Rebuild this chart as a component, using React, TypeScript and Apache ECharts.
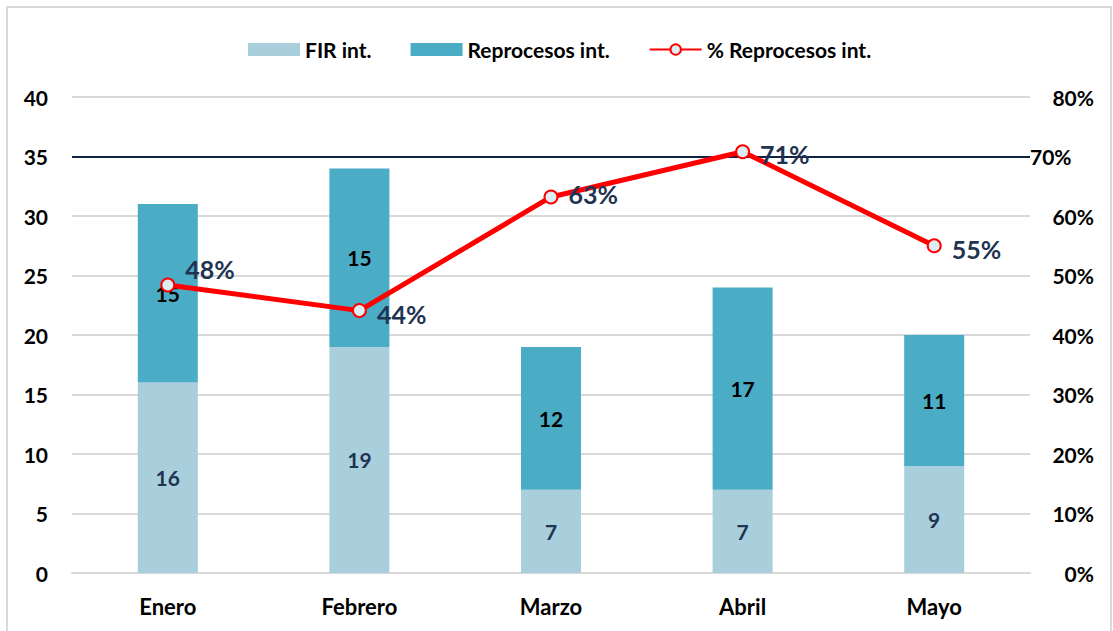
import React, { useEffect, useRef } from "react";
import * as echarts from "echarts";

const months = ["Enero", "Febrero", "Marzo", "Abril", "Mayo"];
const firInt = [16, 19, 7, 7, 9];
const reprocesosInt = [15, 15, 12, 17, 11];
const pctReprocesos = [48.4, 44.1, 63.2, 70.8, 55.0];
const leftTicks = { min: 0, max: 40, interval: 5 };
const rightTicks = { min: 0, max: 80, interval: 10 };
const targetLine = 35;
const targetLabel = "70%";

const FONT = "Lato, 'Open Sans', sans-serif";

export default function App() {
  const ref = useRef<HTMLDivElement>(null);
  useEffect(() => {
    if (!ref.current) return;
    const chart = echarts.init(ref.current, null, { renderer: "svg" });
    const pctLabelOffsets = [
      [0, -16],
      [0, 3],
      [0, -3],
      [0, 2],
      [0, 3],
    ];
    chart.setOption({
      animation: false,
      textStyle: { fontFamily: FONT },
      legend: {
        top: 34,
        left: 243,
        itemGap: 39,
        itemWidth: 52,
        itemHeight: 13,
        textStyle: { fontFamily: FONT, fontWeight: "bold", fontSize: 21, color: "#000" },
        data: [
          { name: "FIR int.", icon: "rect" },
          { name: "Reprocesos int.", icon: "rect" },
          { name: "% Reprocesos int." },
        ],
      },
      grid: { left: 72, right: 83, top: 97, bottom: 58 },
      xAxis: {
        type: "category",
        data: months,
        axisLine: { lineStyle: { color: "#d9d9d9", width: 2 } },
        axisTick: { show: false },
        axisLabel: { margin: 22, fontFamily: FONT, fontWeight: "bold", fontSize: 22, color: "#000" },
      },
      yAxis: [
        {
          type: "value",
          min: leftTicks.min,
          max: leftTicks.max,
          interval: leftTicks.interval,
          axisLine: { show: false },
          axisTick: { show: false },
          splitLine: { lineStyle: { color: "#d9d9d9", width: 2 } },
          axisLabel: { margin: 24, fontFamily: FONT, fontWeight: "bold", fontSize: 21, color: "#000" },
        },
        {
          type: "value",
          min: rightTicks.min,
          max: rightTicks.max,
          interval: rightTicks.interval,
          axisLine: { show: false },
          axisTick: { show: false },
          splitLine: { show: false },
          axisLabel: {
            margin: 64,
            align: "right",
            fontFamily: FONT,
            fontWeight: "bold",
            fontSize: 21,
            color: "#000",
            formatter: (v: number) => (v === 70 ? "" : v + "%"),
          },
        },
      ],
      series: [
        {
          name: "FIR int.",
          type: "bar",
          stack: "total",
          barWidth: 60,
          data: firInt,
          itemStyle: { color: "#a9cfdd" },
          label: {
            show: true,
            position: "inside",
            fontFamily: FONT,
            fontWeight: "bold",
            fontSize: 21,
            color: "#1f3352",
          },
          markLine: {
            symbol: "none",
            silent: true,
            lineStyle: { color: "#0f2340", width: 2, type: "solid" },
            label: {
              show: true,
              position: "end",
              distance: 0,
              formatter: targetLabel,
              fontFamily: FONT,
              fontWeight: "bold",
              fontSize: 21,
              color: "#000",
            },
            data: [{ yAxis: targetLine }],
          },
        },
        {
          name: "Reprocesos int.",
          type: "bar",
          stack: "total",
          barWidth: 60,
          data: reprocesosInt,
          itemStyle: { color: "#4bacc6" },
          label: {
            show: true,
            position: "inside",
            fontFamily: FONT,
            fontWeight: "bold",
            fontSize: 21,
            color: "#000",
          },
        },
        {
          name: "% Reprocesos int.",
          type: "line",
          yAxisIndex: 1,
          z: 5,
          symbol: "circle",
          symbolSize: 13,
          itemStyle: { color: "#dbeef4", borderColor: "#ff0000", borderWidth: 2 },
          lineStyle: { color: "#ff0000", width: 5 },
          data: pctReprocesos.map((v, i) => ({
            value: v,
            label: { offset: pctLabelOffsets[i] },
          })),
          label: {
            show: true,
            position: "right",
            distance: 10,
            fontFamily: FONT,
            fontWeight: "bold",
            fontSize: 25,
            color: "#1f3352",
            formatter: (p: any) => Math.round(p.value) + "%",
          },
        },
      ],
    });
    return () => chart.dispose();
  }, []);
  return (
    <div style={{ position: "fixed", left: 0, top: 0, width: 1113, height: 631, background: "#fff", overflow: "hidden" }}>
      <div
        style={{
          position: "absolute",
          left: 6,
          top: 6,
          width: 1102,
          height: 700,
          border: "2px solid #d9d9d9",
        }}
      />
      <div ref={ref} style={{ position: "absolute", left: 0, top: 0, width: 1113, height: 631 }} />
    </div>
  );
}
